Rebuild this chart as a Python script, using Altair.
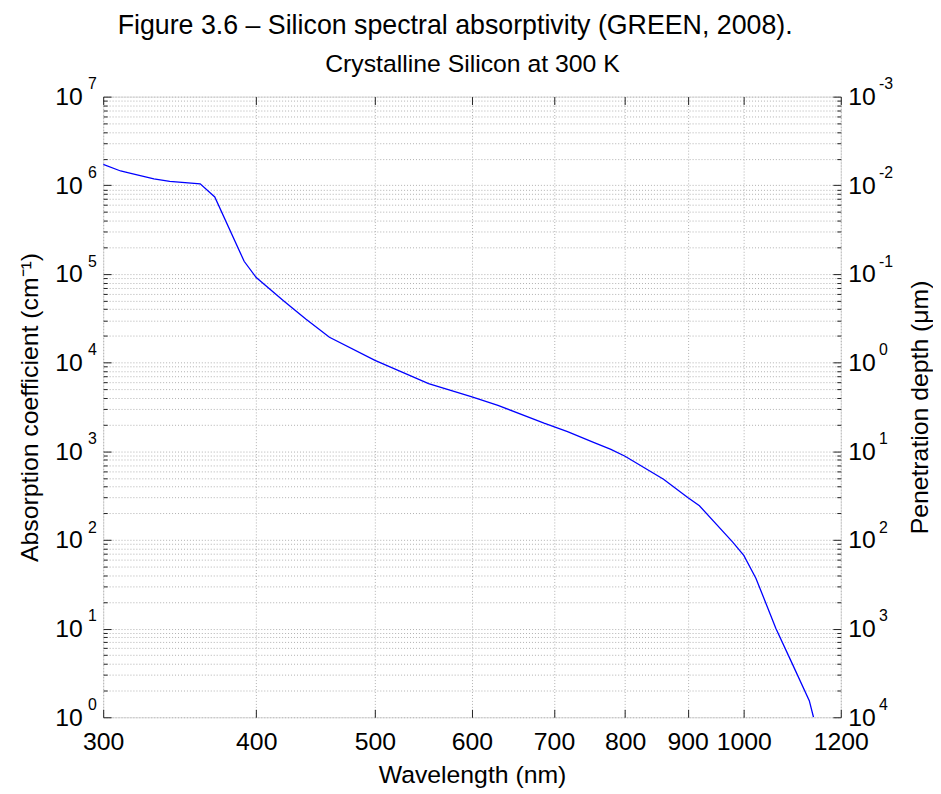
import altair as alt
import pandas as pd

# ---- data ----
wavelength = [300, 310, 316, 330, 340, 360, 370, 391, 400, 421, 439, 459, 500, 553,
              600, 630, 687, 718, 754, 779, 800, 860, 900, 920, 979, 1000, 1023,
              1062, 1096, 1131, 1140]
absorption = [1.72e6, 1.45e6, 1.36e6, 1.18e6, 1.11e6, 1.04e6, 7.4e5, 1.39e5, 9.1e4,
              5.0e4, 3.1e4, 1.93e4, 1.06e4, 5.8e3, 4.1e3, 3.3e3, 2.08e3, 1.67e3,
              1.26e3, 1.05e3, 880, 483, 301, 243, 95, 67, 37, 10.1, 3.95, 1.54, 1.0]

x_ticks = [300, 400, 500, 600, 700, 800, 900, 1000, 1200]
y_decades = [1, 10, 100, 1000, 1e4, 1e5, 1e6, 1e7]
y_minor = [m * 10 ** k for k in range(7) for m in range(2, 10)]
y_all = sorted(y_decades + y_minor)
left_exponents = ["0", "1", "2", "3", "4", "5", "6", "7"]
right_exponents = ["4", "3", "2", "1", "0", "-1", "-2", "-3"]

FONT = "Liberation Sans, Arial, Helvetica, sans-serif"
GRID = "#b0b0b0"

df = pd.DataFrame({"wl": wavelength, "alpha": absorption})

dec_list = "[" + ",".join(repr(float(v)) for v in y_decades) + "]"
expr_ten = f"indexof({dec_list}, datum.value) >= 0 ? '10' : ''"
expr_left = "[" + ",".join(f"'{e}'" for e in left_exponents) + f"][indexof({dec_list}, datum.value)]"
expr_right = "[" + ",".join(f"'{e}'" for e in right_exponents) + f"][indexof({dec_list}, datum.value)]"

xs = alt.Scale(type="log", domain=[300, 1200], nice=False)
ys = alt.Scale(type="log", domain=[1, 1e7], nice=False)

common = dict(labelFont=FONT, titleFont=FONT, labelColor="black", titleColor="black",
              titleFontWeight="normal", labelOverlap=False)

def tick_axis(orient, values, size):
    return alt.Axis(orient=orient, values=values, offset=-size, tickSize=size, ticks=True,
                    labels=False, domain=False, grid=False, tickColor="#222222", tickWidth=1)

# axes
x_bottom = alt.Axis(orient="bottom", values=x_ticks, format="d", ticks=False, tickSize=0,
                    domain=False, grid=True, gridColor=GRID, gridDash=[1, 2], gridWidth=1,
                    labelFontSize=25, labelPadding=13, labelFlush=False,
                    titleFontSize=25, titlePadding=8, **common)
x_bottom_ticks = tick_axis("bottom", x_ticks, 8)
x_top = alt.Axis(orient="top", labels=False, ticks=False, tickSize=0, domain=False, grid=False,
                 titleFontSize=25, titlePadding=20, **common)
x_top_ticks = tick_axis("top", x_ticks, 8)

y_left = alt.Axis(orient="left", values=y_all, labelExpr=expr_ten, ticks=False, tickSize=0,
                  domain=False, grid=True, gridColor=GRID, gridDash=[1, 2], gridWidth=1,
                  labelFontSize=25, labelPadding=21,
                  titleFontSize=25, titlePadding=12, **common)
y_left_exp = alt.Axis(orient="left", values=y_decades, labelExpr=expr_left, ticks=False,
                      tickSize=0, domain=False, grid=False, labelFontSize=16, labelPadding=7,
                      labelOffset=-13, **common)
y_left_major = tick_axis("left", y_decades, 8)
y_left_minor = tick_axis("left", y_minor, 4)
y_right = alt.Axis(orient="right", values=y_decades, labelExpr=expr_ten, ticks=False, tickSize=0,
                   domain=False, grid=False, labelFontSize=25, labelPadding=7,
                   titleFontSize=25, titlePadding=58, titleAngle=270, **common)
y_right_exp = alt.Axis(orient="right", values=y_decades, labelExpr=expr_right, ticks=False,
                       tickSize=0, domain=False, grid=False, labelFontSize=16, labelPadding=38,
                       labelOffset=-13, **common)
y_right_major = tick_axis("right", y_decades, 8)
y_right_minor = tick_axis("right", y_minor, 4)

pairs = [
    (x_bottom, "Wavelength (nm)", y_left, "Absorption coefficient (cm⁻¹)"),
    (x_bottom_ticks, None, y_left_exp, None),
    (x_top, "Crystalline Silicon at 300 K", y_left_major, None),
    (x_top_ticks, None, y_left_minor, None),
    (None, None, y_right, "Penetration depth (μm)"),
    (None, None, y_right_exp, None),
    (None, None, y_right_major, None),
    (None, None, y_right_minor, None),
]

base = alt.Chart(df)
layers = []
for i, (xa, xt, ya, yt) in enumerate(pairs):
    if i == 0:
        mark = base.mark_line(color="#0000ff", strokeWidth=1.3, clip=True)
    else:
        mark = base.mark_line(opacity=0)
    layers.append(mark.encode(
        x=alt.X("wl:Q", scale=xs, axis=xa, title=xt),
        y=alt.Y("alpha:Q", scale=ys, axis=ya, title=yt),
    ))

chart = alt.layer(*layers).resolve_axis(x="independent", y="independent").properties(
    width=744,
    height=626,
    padding={"left": 10, "top": 1, "right": 0, "bottom": 5},
    title=alt.TitleParams("Figure 3.6 – Silicon spectral absorptivity (GREEN, 2008).",
                          font=FONT, fontSize=27, fontWeight="normal", color="black",
                          anchor="middle", offset=12, dx=-17),
).configure_view(stroke="#222222", strokeWidth=1).configure(background="white")

chart.save("out.html", embed_options={"renderer": "svg", "actions": False})
